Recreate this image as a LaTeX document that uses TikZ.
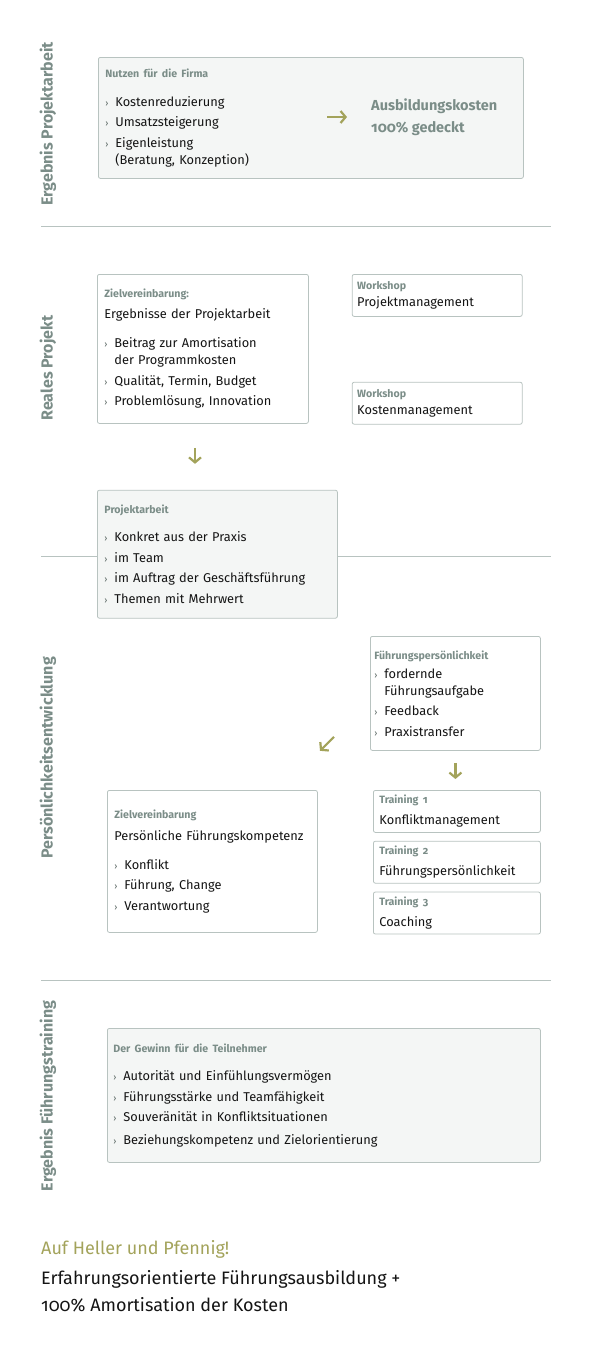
\documentclass[tikz,border=0pt]{standalone}
\usepackage{fontspec}
\setmainfont{Fira Sans}[Numbers=OldStyle]
\usetikzlibrary{arrows.meta, positioning}

\definecolor{grautext}{HTML}{7B8D88}
\definecolor{rahmen}{HTML}{B8C3C0}
\definecolor{flaeche}{HTML}{F4F6F5}
\definecolor{oliv}{HTML}{A3A35B}
\definecolor{schrift}{HTML}{141414}

\newcommand{\pkt}{\makebox[10pt][l]{\textcolor{grautext!70!black}{\small›}}}
\newcommand{\ein}{\hspace*{10pt}}
\newcommand{\kopf}[1]{{\fontsize{10.6}{12}\selectfont\bfseries\color{grautext}#1}}

\begin{document}
\begin{tikzpicture}[x=1pt, y=-1pt,
    box/.style={draw=rahmen, line width=0.8pt, rounded corners=2pt, align=left,
      anchor=north west, inner xsep=7pt, inner ysep=0pt,
      font=\fontsize{12.8}{17}\selectfont, text=schrift},
    greybox/.style={box, fill=flaeche},
    whitebox/.style={box, fill=white},
    seite/.style={rotate=90, font=\fontsize{16}{18}\selectfont\bfseries, text=grautext},
    trenn/.style={draw=rahmen, line width=0.8pt},
    arr/.style={-{Straight Barb[length=5pt, width=12pt]}, line width=2.2pt, oliv}
  ]
    \useasboundingbox (0,0) rectangle (595,1361);

    % Trennlinien
    \draw[trenn] (41,226) -- (551,226);
    \draw[trenn] (41,556) -- (551,556);
    \draw[trenn] (41,980) -- (551,980);

    % Seitentitel
    \node[seite] (l1) at (48,124) {Ergebnis Projektarbeit};
    \node[seite] (l2) at (48,368) {Reales Projekt};
    \node[seite] (l3) at (48,758) {Persönlichkeitsentwicklung};
    \node[seite] (l4) at (48,1096) {Ergebnis Führungstraining};

    % Ergebnis Projektarbeit
    \node[greybox, text width=411pt, minimum height=121pt] (nutzen) at (98,57) {
      \kopf{Nutzen für die Firma}\\[12pt]
      \pkt Kostenreduzierung\\[3.5pt]
      \pkt Umsatzsteigerung\\[3.5pt]
      \pkt Eigenleistung\\
      \ein(Beratung, Konzeption)
    };
    \node[anchor=west, align=left, inner sep=0pt, text=grautext,
      font=\fontsize{14.5}{22}\selectfont\bfseries] (kosten) at (371,117)
      {Ausbildungskosten\\100\% gedeckt};
    \coordinate (pfeil) at (327,117);

    % Reales Projekt
    \node[whitebox, text width=197pt, minimum height=149pt] (ziel) at (97,274) {
      \kopf{Zielvereinbarung:}\\[4pt]
      Ergebnisse der Projektarbeit\\[12pt]
      \pkt Beitrag zur Amortisation\\
      \ein der Programmkosten\\[4pt]
      \pkt Qualität, Termin, Budget\\[3pt]
      \pkt Problemlösung, Innovation
    };
    \node[whitebox, inner xsep=5pt, text width=160pt, minimum height=42pt,
      right=43pt of ziel.north east, anchor=north west] (ws1)
      {\kopf{Workshop}\\Projektmanagement};
    \node[whitebox, inner xsep=5pt, text width=160pt, minimum height=42pt,
      below=65pt of ws1.south west, anchor=north west] (ws2)
      {\kopf{Workshop}\\Kostenmanagement};
    \node[greybox, text width=226pt, minimum height=128pt,
      below=66pt of ziel.south west, anchor=north west] (projekt) {
      \kopf{Projektarbeit}\\[11pt]
      \pkt Konkret aus der Praxis\\[3.5pt]
      \pkt im Team\\[3.5pt]
      \pkt im Auftrag der Geschäftsführung\\[3.5pt]
      \pkt Themen mit Mehrwert
    };
    \coordinate (zx) at (195,0);

    % Persoenlichkeitsentwicklung
    \node[whitebox, inner xsep=4pt, text width=162pt, minimum height=114pt] (fp) at (370,636) {
      \kopf{Führungspersönlichkeit}\\[2pt]
      \pkt fordernde\\
      \ein Führungsaufgabe\\[3.5pt]
      \pkt Feedback\\[3.5pt]
      \pkt Praxistransfer
    };
    \node[whitebox, text width=196pt, minimum height=142pt] (ziel2) at (107,790) {
      \kopf{Zielvereinbarung}\\[5pt]
      Persönliche Führungskompetenz\\[12pt]
      \pkt Konflikt\\[3.5pt]
      \pkt Führung, Change\\[3.5pt]
      \pkt Verantwortung
    };
    \node[whitebox, inner xsep=6pt, text width=155pt, minimum height=42pt] (t1) at (373,790)
      {\kopf{Training 1}\\[4pt]Konfliktmanagement};
    \node[whitebox, inner xsep=6pt, text width=155pt, minimum height=42pt,
      below=8pt of t1.south west, anchor=north west] (t2)
      {\kopf{Training 2}\\[4pt]Führungspersönlichkeit};
    \node[whitebox, inner xsep=6pt, text width=155pt, minimum height=42pt,
      below=8pt of t2.south west, anchor=north west] (t3)
      {\kopf{Training 3}\\[4pt]Coaching};
    \coordinate (schraeg) at ([shift={(-36,-14)}]fp.south west);

    % Ergebnis Fuehrungstraining
    \node[greybox, inner xsep=6pt, text width=421pt, minimum height=134pt] (gewinn) at (107,1028) {
      \kopf{Der Gewinn für die Teilnehmer}\\[11pt]
      \pkt Autorität und Einfühlungsvermögen\\[3.5pt]
      \pkt Führungsstärke und Teamfähigkeit\\[3.5pt]
      \pkt Souveränität in Konfliktsituationen\\[5.5pt]
      \pkt Beziehungskompetenz und Zielorientierung
    };

    % Fazit
    \node[anchor=west, inner sep=0pt, text=oliv, font=\fontsize{18}{27}\selectfont] (motto)
      at (41,1249) {Auf Heller und Pfennig!};
    \node[anchor=west, align=left, inner sep=0pt, text=schrift,
      font=\fontsize{18}{27}\selectfont] (fazit) at (41,1291.5)
      {Erfahrungsorientierte Führungsausbildung +\\100\% Amortisation der Kosten};

    % Pfeile
    \draw[arr, shorten >=24pt] (pfeil) -- (kosten.west);
    \draw[arr, shorten <=24pt, shorten >=26pt] (ziel.south -| zx) -- (projekt.north -| zx);
    \draw[arr] (schraeg) -- ++(-14,14);
    \draw[arr, shorten <=12pt, shorten >=11pt] (fp.south) -- (fp.south |- t1.north);
  \end{tikzpicture}
\end{document}
